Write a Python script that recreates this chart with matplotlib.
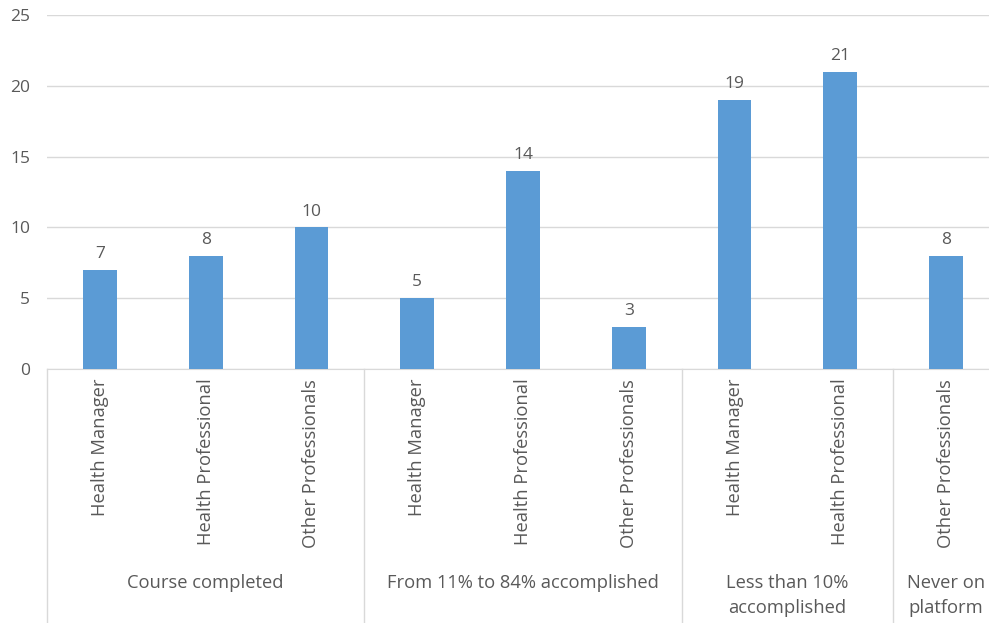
import matplotlib.pyplot as plt

plt.rcParams['font.family'] = ['Open Sans', 'DejaVu Sans']

roles = ["Health Manager", "Health Professional", "Other Professionals",
         "Health Manager", "Health Professional", "Other Professionals",
         "Health Manager", "Health Professional",
         "Other Professionals"]
counts = [7, 8, 10, 5, 14, 3, 19, 21, 8]
groups = ["Course completed", "From 11% to 84% accomplished",
          "Less than 10%\naccomplished", "Never on\nplatform"]
group_sizes = [3, 3, 2, 1]

grey = '#595959'
fig = plt.figure(figsize=(9.89, 6.23), dpi=100)
ax = fig.add_axes([47 / 989, 1 - 369 / 623, 952 / 989, 354 / 623])

x = list(range(len(counts)))
bars = ax.bar(x, counts, width=0.32, color='#5b9bd5', zorder=3)
for xi, v in zip(x, counts):
    ax.text(xi, v + 0.55, str(v), ha='center', va='bottom', fontsize=12.5, color=grey)

ax.set_xlim(-0.5, len(counts) - 0.5)
ax.set_ylim(0, 25)
ax.set_yticks([0, 5, 10, 15, 20, 25])
ax.grid(axis='y', color='#d9d9d9', linewidth=1, zorder=0)
ax.tick_params(axis='y', length=0, labelsize=12.5, labelcolor=grey, pad=12)
ax.tick_params(axis='x', length=0)
for s in ['top', 'right', 'left']:
    ax.spines[s].set_visible(False)
ax.spines['bottom'].set_color('#d9d9d9')

ax.set_xticks(x)
ax.set_xticklabels(roles, rotation=90, fontsize=13.2, color=grey, va='top')
ax.tick_params(axis='x', pad=7)

# group separators and labels
pos = -0.5
trans = ax.get_xaxis_transform()
ax.plot([pos, pos], [0, -0.72], transform=trans, color='#d9d9d9', lw=1, clip_on=False)
for g, n in zip(groups, group_sizes):
    end = pos + n
    ax.plot([end, end], [0, -0.72], transform=trans, color='#d9d9d9', lw=1, clip_on=False)
    yl = -0.605 if '\n' not in g else -0.639
    ax.text((pos + end) / 2, yl, g, transform=trans, ha='center', va='center',
            fontsize=13.2, color=grey, linespacing=1.5)
    pos = end

fig.savefig('out.png', dpi=100)
